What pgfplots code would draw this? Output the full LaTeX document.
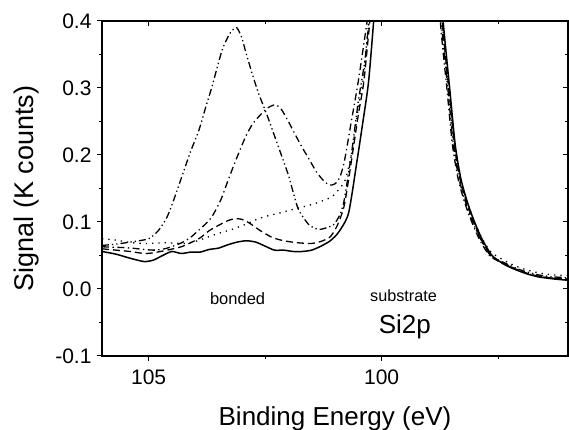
\documentclass[border=0pt]{standalone}
\usepackage{pgfplots}
\pgfplotsset{compat=1.18}
\usepackage{fontspec}
\setmainfont{Liberation Sans}

\begin{document}
\begin{tikzpicture}
\pgfplotsset{
  common/.style={
    scale only axis, width=466pt, height=335pt,
    x dir=reverse, xmin=96, xmax=106, ymin=-0.1, ymax=0.4,
    xtick={100,105}, minor xtick={97.5,102.5},
    ytick={-0.1,0,0.1,0.2,0.3,0.4},
    minor ytick={-0.05,0.05,0.15,0.25,0.35},
    major tick length=5pt, minor tick length=3pt,
    axis line style={line width=1.2pt},
    every tick/.style={black, line width=1pt},
  },
  curve/.style={black, line width=1.3pt, smooth, tension=0.4},
}
\begin{axis}[common,
  xtick pos=bottom, ytick pos=left, tick align=outside,
  /pgf/number format/assume math mode=true,
  yticklabel style={/pgf/number format/fixed, /pgf/number format/fixed zerofill, /pgf/number format/precision=1, xshift=-2pt},
  xticklabel style={/pgf/number format/fixed, yshift=-5pt},
  ticklabel style={font=\fontsize{21}{22}\selectfont},
  xlabel={Binding Energy (eV)},
  ylabel={Signal (K counts)},
  xlabel style={font=\fontsize{26}{28}\selectfont, at={(axis description cs:0.5,0)}, anchor=base, yshift=-69pt},
  ylabel style={font=\fontsize{27}{29}\selectfont, at={(axis description cs:-0.148,0.5)}, anchor=base},
]
% solid
\addplot[curve, line width=1.5pt] coordinates {
(106.0,0.056)(105.7,0.052)(105.4,0.046)(105.1,0.041)(104.9,0.043)(104.7,0.050)(104.5,0.056)
(104.3,0.053)(104.1,0.055)(103.9,0.055)(103.7,0.059)(103.5,0.061)(103.3,0.066)(103.1,0.070)
(102.9,0.072)(102.7,0.070)(102.5,0.064)(102.3,0.058)(102.1,0.058)(101.9,0.056)(101.7,0.056)
(101.5,0.058)(101.3,0.064)(101.1,0.072)(100.92,0.085)(100.71,0.113)(100.53,0.19)(100.4,0.25)
(100.28,0.309)(100.17,0.40)(100.0,0.55)(99.7,0.75)(99.4,0.8)(99.1,0.75)(98.85,0.55)
(98.68,0.40)(98.54,0.30)(98.42,0.215)(98.3,0.165)(98.17,0.132)(98.04,0.106)(97.85,0.075)(97.63,0.050)
(97.4,0.038)(97.2,0.031)(96.9,0.023)(96.63,0.018)(96.3,0.015)(96.0,0.013)};
% dashed
\addplot[curve, dash pattern=on 7pt off 4pt] coordinates {
(106.0,0.060)(105.7,0.058)(105.4,0.056)(105.1,0.053)(104.9,0.054)(104.6,0.058)(104.3,0.063)
(104.1,0.069)(103.9,0.076)(103.7,0.087)(103.5,0.095)(103.3,0.102)(103.15,0.105)(103.0,0.104)
(102.85,0.099)(102.6,0.087)(102.35,0.077)(102.1,0.072)(101.8,0.069)(101.5,0.068)(101.3,0.071)
(101.1,0.078)(100.95,0.095)(100.8,0.125)(100.65,0.19)(100.5,0.26)(100.38,0.31)(100.25,0.40)
(100.0,0.55)(99.7,0.75)(99.4,0.8)(99.1,0.75)(98.85,0.55)
(98.70,0.40)(98.56,0.30)(98.44,0.215)(98.32,0.165)(98.19,0.132)(98.06,0.106)(97.87,0.075)(97.65,0.050)
(97.3,0.036)(97.0,0.026)(96.63,0.019)(96.3,0.016)(96.0,0.014)};
% dotted
\addplot[curve, dash pattern=on 1.3pt off 5pt] coordinates {
(106.0,0.075)(105.7,0.073)(105.35,0.069)(105.0,0.068)(104.64,0.069)(104.21,0.068)(103.95,0.072)
(103.71,0.078)(103.45,0.084)(103.21,0.089)(102.9,0.097)(102.64,0.105)(102.4,0.110)(102.21,0.113)
(102.0,0.117)(101.78,0.121)(101.5,0.126)(101.25,0.132)(101.06,0.138)(100.9,0.150)(100.78,0.163)
(100.65,0.20)(100.5,0.27)(100.38,0.32)(100.27,0.40)
(100.0,0.55)(99.7,0.75)(99.4,0.8)(99.1,0.75)(98.85,0.55)
(98.70,0.40)(98.56,0.30)(98.44,0.215)(98.32,0.167)(98.19,0.135)(98.06,0.110)(97.87,0.079)(97.65,0.055)
(97.3,0.040)(97.0,0.031)(96.63,0.024)(96.3,0.021)(96.0,0.020)};
% dash-dot
\addplot[curve, dash pattern=on 7pt off 3.5pt on 1.3pt off 3.5pt] coordinates {
(106.0,0.063)(105.6,0.062)(105.36,0.061)(105.1,0.059)(104.85,0.058)(104.6,0.061)(104.29,0.069)
(104.1,0.077)(103.92,0.088)(103.78,0.097)(103.64,0.108)(103.45,0.133)(103.28,0.165)(103.1,0.197)
(102.92,0.227)(102.78,0.245)(102.64,0.257)(102.45,0.270)(102.28,0.275)(102.15,0.268)(102.0,0.250)
(101.85,0.230)(101.71,0.212)(101.55,0.193)(101.4,0.175)(101.25,0.162)(101.12,0.155)(101.0,0.157)
(100.9,0.166)(100.8,0.19)(100.65,0.25)(100.5,0.31)(100.31,0.40)
(100.0,0.55)(99.7,0.75)(99.4,0.8)(99.1,0.75)(98.85,0.55)
(98.74,0.40)(98.60,0.30)(98.48,0.215)(98.36,0.165)(98.23,0.132)(98.10,0.106)(97.9,0.074)(97.67,0.049)
(97.3,0.035)(97.0,0.026)(96.63,0.019)(96.3,0.016)(96.0,0.015)};
% dash-dot-dot
\addplot[curve, dash pattern=on 7pt off 3pt on 1.3pt off 3pt on 1.3pt off 3pt] coordinates {
(106.0,0.065)(105.7,0.067)(105.4,0.070)(105.0,0.075)(104.78,0.088)(104.6,0.108)(104.45,0.135)
(104.31,0.163)(104.1,0.205)(103.92,0.237)(103.78,0.27)(103.64,0.302)(103.42,0.357)(103.25,0.382)
(103.11,0.390)(103.0,0.375)(102.92,0.355)(102.78,0.322)(102.64,0.292)(102.45,0.258)(102.28,0.225)
(102.1,0.19)(101.99,0.168)(101.9,0.145)(101.78,0.118)(101.56,0.096)(101.36,0.089)(101.2,0.091)
(101.03,0.096)(100.9,0.11)(100.81,0.13)(100.65,0.20)(100.5,0.28)(100.36,0.34)(100.27,0.40)
(100.0,0.55)(99.7,0.75)(99.4,0.8)(99.1,0.75)(98.85,0.55)
(98.72,0.40)(98.58,0.30)(98.46,0.215)(98.34,0.165)(98.21,0.132)(98.08,0.106)(97.88,0.075)(97.66,0.050)
(97.3,0.037)(97.0,0.028)(96.63,0.021)(96.3,0.018)(96.0,0.017)};
\node[anchor=base, font=\fontsize{16.5}{18}\selectfont] at (axis cs:103.09,-0.0224) {bonded};
\node[anchor=base, font=\fontsize{16.2}{18}\selectfont] at (axis cs:99.53,-0.018) {substrate};
\node[anchor=base, font=\fontsize{26}{28}\selectfont] at (axis cs:99.5,-0.066) {Si2p};
\end{axis}
\begin{axis}[common,
  xtick pos=top, ytick pos=right, tick align=inside,
  xticklabels={}, yticklabels={},
]
\end{axis}
\pgfresetboundingbox
\path (-102pt,-74pt) rectangle (467pt,356pt);
\end{tikzpicture}
\end{document}
